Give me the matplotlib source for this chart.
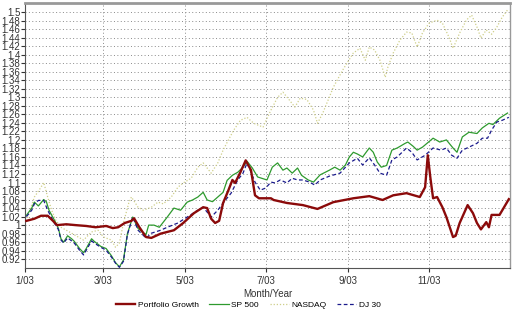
import matplotlib

matplotlib.use("Agg")
import matplotlib.pyplot as plt  # noqa: E402
import matplotlib.dates as mdates  # noqa: E402
import pandas as pd  # noqa: E402
from matplotlib.ticker import FuncFormatter  # noqa: E402

START = pd.Timestamp("2003-01-02")

# day offsets from START and normalized growth values
PORT_DAYS = [0, 6, 11, 16, 20, 23, 30, 37, 45, 52, 60, 65, 69, 74, 79, 81, 85, 90,
             94, 101, 111, 118, 126, 133, 136, 139, 142, 145, 148, 152, 155, 157,
             161, 165, 169, 172, 175, 184, 186, 196, 208, 219, 231, 246, 258, 268,
             276, 286, 296, 300, 302, 304, 306, 309, 313, 316, 321, 323, 326, 332,
             336, 339, 342, 346, 348, 350, 356, 363]
PORT_VALS = [1.010, 1.015, 1.022, 1.022, 1.010, 1.000, 1.002, 1.000, 0.998, 0.995,
             0.998, 0.993, 0.995, 1.005, 1.010, 1.016, 0.995, 0.972, 0.970, 0.980,
             0.988, 1.005, 1.028, 1.042, 1.040, 1.015, 1.005, 1.010, 1.052, 1.082,
             1.106, 1.099, 1.124, 1.152, 1.129, 1.070, 1.063, 1.063, 1.059, 1.052,
             1.047, 1.038, 1.054, 1.063, 1.068, 1.059, 1.070, 1.075, 1.066, 1.089,
             1.164, 1.110, 1.063, 1.066, 1.042, 1.019, 0.972, 0.975, 1.005, 1.047,
             1.028, 1.005, 0.990, 1.007, 0.995, 1.024, 1.024, 1.061]

SP_DAYS = [0, 4, 6, 9, 13, 15, 17, 21, 24, 26, 28, 31, 34, 36, 40, 43, 45, 49, 51,
           56, 60, 64, 67, 70, 73, 76, 80, 84, 88, 90, 92, 96, 100, 103, 106, 111,
           116, 121, 125, 129, 133, 136, 140, 144, 148, 151, 155, 159, 163, 166,
           170, 174, 177, 181, 185, 189, 193, 196, 200, 204, 207, 212, 216, 221,
           228, 232, 236, 240, 243, 246, 249, 253, 258, 261, 264, 267, 271, 275,
           279, 285, 287, 291, 294, 298, 306, 311, 316, 321, 324, 328, 333, 339,
           343, 348, 351, 356, 362]
SP_VALS = [1.023, 1.040, 1.054, 1.045, 1.060, 1.055, 1.035, 1.012, 0.993, 0.968,
           0.960, 0.975, 0.968, 0.962, 0.945, 0.935, 0.945, 0.968, 0.962, 0.950,
           0.945, 0.928, 0.912, 0.902, 0.918, 0.980, 1.019, 0.992, 0.982, 0.978,
           1.000, 1.000, 0.995, 1.007, 1.019, 1.040, 1.035, 1.054, 1.059, 1.066,
           1.077, 1.059, 1.055, 1.066, 1.077, 1.105, 1.117, 1.124, 1.136, 1.150,
           1.134, 1.113, 1.110, 1.106, 1.136, 1.146, 1.129, 1.134, 1.122, 1.134,
           1.117, 1.106, 1.101, 1.118, 1.129, 1.136, 1.129, 1.141, 1.160, 1.171,
           1.167, 1.160, 1.181, 1.171, 1.148, 1.136, 1.140, 1.176, 1.181, 1.192,
           1.195, 1.185, 1.176, 1.183, 1.204, 1.195, 1.200, 1.181, 1.171, 1.207,
           1.218, 1.215, 1.228, 1.239, 1.236, 1.251, 1.263]

NAS_DAYS = [0, 2, 6, 11, 13, 16, 19, 22, 26, 34, 39, 43, 49, 54, 58, 64, 67, 70,
            73, 77, 79, 84, 88, 94, 99, 103, 109, 114, 118, 124, 129, 133, 139,
            144, 148, 152, 156, 161, 166, 171, 178, 184, 189, 193, 198, 202, 206,
            211, 216, 219, 223, 231, 238, 246, 251, 255, 258, 262, 266, 270, 272,
            276, 281, 286, 290, 294, 298, 303, 309, 313, 318, 321, 326, 331, 335,
            339, 342, 346, 350, 354, 358, 362]
NAS_VALS = [1.010, 1.028, 1.066, 1.089, 1.100, 1.066, 1.035, 1.012, 0.995, 0.981,
            0.972, 0.965, 0.984, 0.988, 0.972, 0.965, 0.948, 0.958, 1.005, 1.052,
            1.066, 1.042, 1.035, 1.042, 1.054, 1.050, 1.066, 1.089, 1.099, 1.110,
            1.136, 1.146, 1.122, 1.146, 1.176, 1.200, 1.223, 1.246, 1.253, 1.239,
            1.230, 1.270, 1.300, 1.312, 1.293, 1.277, 1.298, 1.295, 1.270, 1.239,
            1.263, 1.324, 1.364, 1.404, 1.415, 1.387, 1.418, 1.411, 1.387, 1.347,
            1.371, 1.404, 1.434, 1.453, 1.451, 1.418, 1.451, 1.474, 1.481, 1.474,
            1.441, 1.415, 1.451, 1.481, 1.493, 1.465, 1.439, 1.458, 1.448, 1.465,
            1.488, 1.505]

DJ_DAYS = [0, 4, 6, 9, 13, 16, 21, 24, 26, 28, 31, 34, 36, 40, 43, 45, 49, 51, 56,
           60, 64, 67, 70, 73, 76, 80, 84, 88, 90, 94, 101, 106, 114, 121, 129,
           133, 139, 144, 148, 154, 159, 163, 166, 169, 172, 176, 180, 184, 187,
           191, 196, 200, 204, 208, 213, 217, 221, 228, 236, 243, 249, 253, 258,
           262, 266, 271, 275, 279, 286, 290, 294, 300, 306, 312, 316, 320, 324,
           328, 333, 339, 343, 347, 350, 354, 358, 363]
DJ_VALS = [1.020, 1.035, 1.050, 1.058, 1.058, 1.035, 1.005, 0.990, 0.965, 0.958,
           0.970, 0.963, 0.958, 0.941, 0.930, 0.941, 0.963, 0.958, 0.948, 0.941,
           0.925, 0.911, 0.901, 0.915, 0.978, 1.019, 0.988, 0.976, 0.969, 0.981,
           0.988, 0.995, 1.005, 1.019, 1.035, 1.042, 1.019, 1.035, 1.052, 1.075,
           1.106, 1.122, 1.146, 1.124, 1.101, 1.082, 1.087, 1.101, 1.099, 1.106,
           1.099, 1.110, 1.106, 1.106, 1.101, 1.094, 1.106, 1.115, 1.122, 1.146,
           1.157, 1.141, 1.158, 1.141, 1.122, 1.117, 1.153, 1.160, 1.181, 1.171,
           1.153, 1.164, 1.181, 1.176, 1.181, 1.164, 1.157, 1.176, 1.183, 1.192,
           1.204, 1.204, 1.223, 1.242, 1.246, 1.253]

Y_TICKS = [0.92, 0.94, 0.96, 0.98, 1.0, 1.02, 1.04, 1.06, 1.08, 1.1, 1.12, 1.14,
           1.16, 1.18, 1.2, 1.22, 1.24, 1.26, 1.28, 1.3, 1.32, 1.34, 1.36, 1.38,
           1.4, 1.42, 1.44, 1.46, 1.48, 1.5]


def to_dates(days):
    return START + pd.to_timedelta(days, unit="D")


def fmt_y(v, _pos):
    return f"{v:.2f}".rstrip("0").rstrip(".")


plt.rcParams["font.family"] = ["Liberation Sans", "DejaVu Sans"]

fig = plt.figure(figsize=(5.12, 3.14), dpi=100)
fig.patch.set_facecolor("white")
ax = fig.add_axes([0.049, 0.146, 0.947, 0.844])

ax.plot(to_dates(NAS_DAYS), NAS_VALS, color="#cfcf8a", lw=0.9, ls=(0, (1, 1.5)),
        label="NASDAQ", zorder=2)
ax.plot(to_dates(SP_DAYS), SP_VALS, color="#2e9a2e", lw=0.9, label="SP 500", zorder=3)
ax.plot(to_dates(DJ_DAYS), DJ_VALS, color="#1a1a8c", lw=0.9, ls=(0, (3, 2)),
        label="DJ 30", zorder=4)
ax.plot(to_dates(PORT_DAYS), PORT_VALS, color="#8b0a0a", lw=1.7,
        label="Portfolio Growth", zorder=5)

ax.set_xlim(pd.Timestamp("2003-01-01"), pd.Timestamp("2003-12-31 20:00"))
ax.set_ylim(0.899, 1.521)

ax.xaxis.set_major_locator(mdates.MonthLocator(bymonth=[1, 3, 5, 7, 9, 11]))
ax.xaxis.set_major_formatter(
    FuncFormatter(lambda x, p: f"{mdates.num2date(x).month}/03"))
ax.set_yticks(Y_TICKS)
ax.yaxis.set_major_formatter(FuncFormatter(fmt_y))

ax.tick_params(axis="both", labelsize=7, colors="#333333", length=3, width=0.8)
ax.tick_params(axis="x", pad=3)
ax.tick_params(axis="y", pad=0.5)
ax.grid(True, color="#8a8a8a", ls=(0, (1, 2.5)), lw=0.7)

for side in ["top", "right"]:
    ax.spines[side].set_color("#999999")
ax.spines["top"].set_linewidth(2)
ax.spines["right"].set_linewidth(1)
ax.spines["left"].set_color("#555555")
ax.spines["bottom"].set_color("#555555")

ax.set_xlabel("Month/Year", fontsize=7, color="#333333", labelpad=2)

handles, labels = ax.get_legend_handles_labels()
order = [3, 1, 0, 2]
fig.legend([handles[i] for i in order], [labels[i] for i in order],
           loc="center", bbox_to_anchor=(0.485, 0.028), ncol=4, frameon=False,
           fontsize=6, handlelength=2.3, columnspacing=1.3, handletextpad=0.3)

plt.savefig("out.png", dpi=100)
